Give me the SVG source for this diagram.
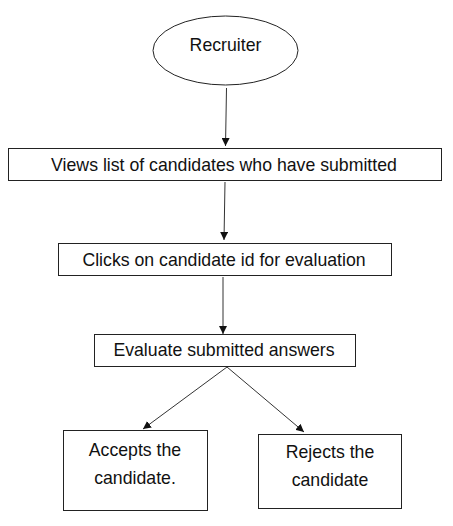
<svg xmlns="http://www.w3.org/2000/svg" width="453" height="526" viewBox="0 0 453 526">
<style>
.n{fill:#fff;stroke:#222;stroke-width:1}
.t{font-family:"Liberation Sans",Arial,sans-serif;font-size:17.7px;fill:#111;text-anchor:middle}
.c{stroke:#333;stroke-width:1;fill:none;marker-end:url(#ah)}
</style>
<defs>
<marker id="ah" viewBox="0 0 10 10" refX="10" refY="5" markerWidth="8" markerHeight="8" markerUnits="userSpaceOnUse" orient="auto">
<path d="M0,0 L10,5 L0,10 z" fill="#111"/>
</marker>
</defs>
<rect width="453" height="526" fill="#fff"/>
<g id="connectors">
<line class="c" x1="226.5" y1="88" x2="225.5" y2="146"/>
<line class="c" x1="225" y1="182" x2="224" y2="240"/>
<line class="c" x1="223" y1="277" x2="223" y2="334"/>
<line class="c" x1="227" y1="367" x2="143" y2="429"/>
<line class="c" x1="227" y1="367" x2="304" y2="432"/>
</g>
<g id="recruiter">
<ellipse class="n" cx="225.5" cy="50.5" rx="72.5" ry="34.5"/>
<text class="t" x="225.5" y="51">Recruiter</text>
</g>
<g id="views-list">
<rect class="n" x="8.5" y="148.5" width="433" height="32"/>
<text class="t" x="224" y="170.5">Views list of candidates who have submitted</text>
</g>
<g id="clicks">
<rect class="n" x="58.5" y="243.5" width="333" height="32"/>
<text class="t" x="224" y="265.5">Clicks on candidate id for evaluation</text>
</g>
<g id="evaluate">
<rect class="n" x="94.5" y="334.5" width="261" height="32"/>
<text class="t" x="224" y="356">Evaluate submitted answers</text>
</g>
<g id="accepts">
<rect class="n" x="63.5" y="430.5" width="144" height="80"/>
<text class="t" x="135" y="455.5">Accepts the</text>
<text class="t" x="135" y="483.5">candidate.</text>
</g>
<g id="rejects">
<rect class="n" x="258.5" y="434.5" width="143" height="74"/>
<text class="t" x="330" y="458">Rejects the</text>
<text class="t" x="330" y="486">candidate</text>
</g>
</svg>
